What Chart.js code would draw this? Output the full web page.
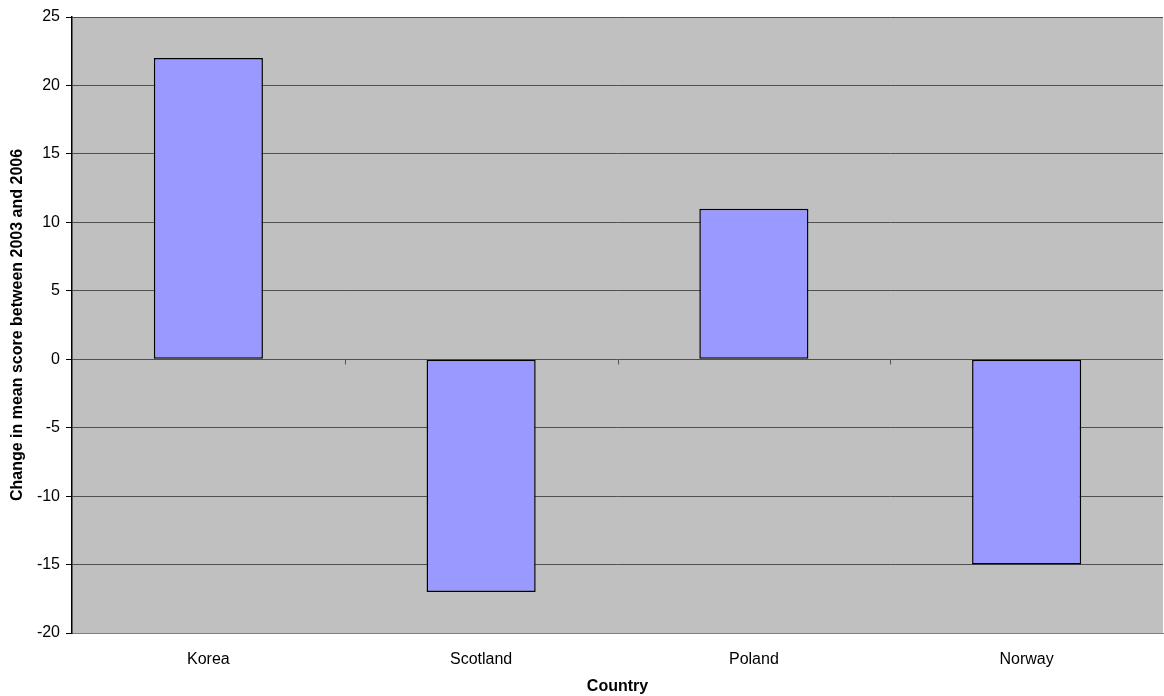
<!DOCTYPE html>
<html lang="en">
<head>
  <meta charset="UTF-8">
  <title>Change in mean score between 2003 and 2006</title>
  <style>
    body { margin: 0; padding: 0; background: #fff; }
    #wrap { width: 1164px; height: 696px; position: relative; }
  </style>
</head>
<body>
  <div id="wrap"><canvas id="grafico" width="1164" height="696"></canvas></div>
  <script src="https://cdn.jsdelivr.net/npm/chart.js"></script>
  <script>
    // dados
    const paises = ['Korea', 'Scotland', 'Poland', 'Norway'];
    const variacao = [22, -17, 11, -15];
    const yMin = -20, yMax = 25, yPasso = 5;

    const FONTE = "'Liberation Sans', Arial, sans-serif";

    // fundo cinza da área do gráfico + marcas no eixo zero
    const fundoPlot = {
      id: 'fundoPlot',
      beforeDraw(chart) {
        const { ctx, chartArea: a } = chart;
        ctx.save();
        ctx.fillStyle = '#c0c0c0';
        ctx.fillRect(a.left, a.top, a.right - a.left, a.bottom - a.top);
        ctx.restore();
      },
      afterDatasetsDraw(chart) {
        const { ctx, scales: { x, y } } = chart;
        const y0 = Math.round(y.getPixelForValue(0)) + 0.5;
        ctx.save();
        ctx.strokeStyle = '#555';
        ctx.lineWidth = 1;
        for (let i = 1; i < paises.length; i++) {
          const xx = Math.round((x.getPixelForValue(i - 1) + x.getPixelForValue(i)) / 2) + 0.5;
          ctx.beginPath(); ctx.moveTo(xx, y0); ctx.lineTo(xx, y0 + 5); ctx.stroke();
        }
        ctx.restore();
      }
    };

    new Chart(document.getElementById('grafico'), {
      type: 'bar',
      data: {
        labels: paises,
        datasets: [{
          data: variacao,
          backgroundColor: '#9999ff',
          borderColor: '#000',
          borderWidth: 1.5,
          borderSkipped: false,
          categoryPercentage: 1,
          barPercentage: 0.4
        }]
      },
      options: {
        responsive: false,
        animation: false,
        layout: { padding: { top: 17, right: 1, left: 0, bottom: 0 } },
        plugins: { legend: { display: false }, tooltip: { enabled: false } },
        scales: {
          x: {
            grid: { display: false, drawTicks: false },
            border: { display: true, color: '#808080', width: 1 },
            ticks: { color: '#000', font: { family: FONTE, size: 16 }, padding: 17 },
            title: { display: true, text: 'Country', color: '#000', font: { family: FONTE, size: 16, weight: 'bold' }, padding: { top: 4, bottom: 0 } },
            afterFit(s) { s.height = 63; }
          },
          y: {
            min: yMin, max: yMax,
            ticks: { stepSize: yPasso, color: '#000', font: { family: FONTE, size: 16 }, padding: 6 },
            grid: { color: '#505050', lineWidth: 1, tickLength: 6, tickColor: '#000' },
            border: { display: true, color: '#000', width: 1.5 },
            title: { display: true, text: 'Change in mean score between 2003 and 2006', color: '#000', font: { family: FONTE, size: 16, weight: 'bold' }, padding: { top: 8, bottom: 4 } },
            afterFit(s) { s.width = 72; }
          }
        }
      },
      plugins: [fundoPlot]
    });
  </script>
</body>
</html>
